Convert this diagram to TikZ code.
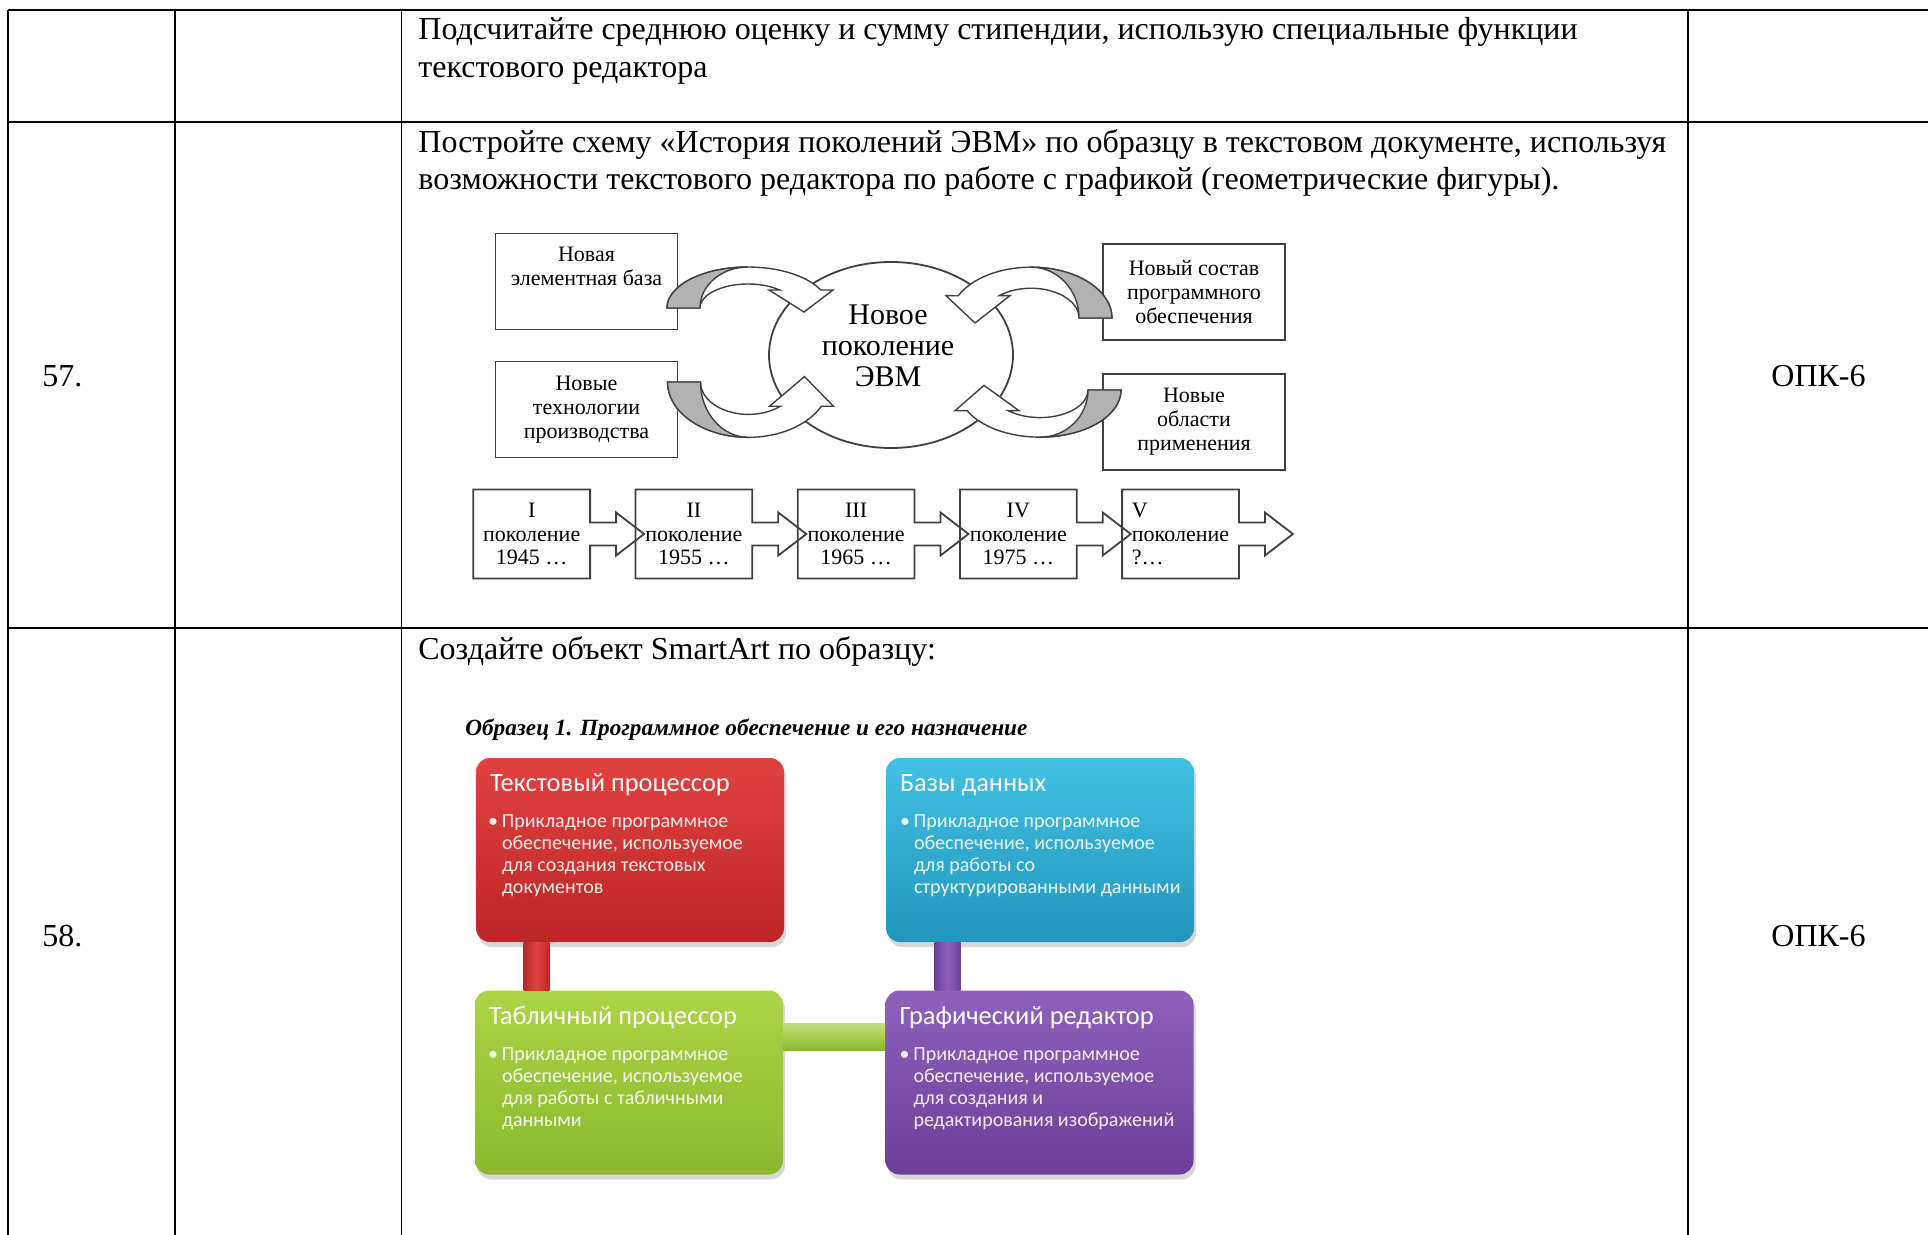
\documentclass[tikz,border=0pt]{standalone}
\usepackage{fontspec}
\setmainfont{Liberation Serif}
\newfontfamily\artfont{Carlito}
\usetikzlibrary{calc, shapes.geometric, shadows}

\definecolor{artred}{RGB}{224,66,64}
\definecolor{artredd}{RGB}{188,38,38}
\definecolor{artblue}{RGB}{66,192,226}
\definecolor{artblued}{RGB}{34,150,190}
\definecolor{artgreen}{RGB}{172,212,72}
\definecolor{artgreend}{RGB}{138,184,44}
\definecolor{artviolet}{RGB}{142,98,188}
\definecolor{artvioletd}{RGB}{108,62,152}

\begin{document}
\begin{tikzpicture}[x=0.5pt, y=-0.5pt,
  frame/.style={line width=0.85pt},
  cell/.style={anchor=base west, inner sep=0, font=\fontsize{16}{19}\selectfont},
  gbox/.style={draw=black!75, line width=0.9pt, minimum width=91pt, minimum height=48pt, align=center, inner sep=0, font=\fontsize{11}{12}\selectfont},
  gtext/.style={align=center, inner sep=0, font=\fontsize{11}{12}\selectfont},
  gen/.style={minimum width=58pt, minimum height=44pt, inner sep=0, font=\fontsize{11}{11.75}\selectfont},
  genline/.style={draw=black!75, line width=0.9pt},
  band/.style={fill=white, draw=black!75, line width=0.7pt},
  under/.style={fill=black!30, draw=black!75, line width=0.7pt},
  bendarrow/.pic={
    \path[band] (-81,0) arc[start angle=180, end angle=334, x radius=81, y radius=41]
      -- (85,-18) -- (56,4) -- (21,-18) -- (31.7,-18)
      arc[start angle=311.4, end angle=180, x radius=48, y radius=24] -- cycle;
    \path[under] (-81,0) arc[start angle=180, end angle=270, x radius=81, y radius=41]
      arc[start angle=270, end angle=180, x radius=48, y radius=41] -- cycle;
  },
  tile/.style={rounded corners=7pt, minimum width=154pt, minimum height=92pt, inner sep=0,
    drop shadow={shadow xshift=1pt, shadow yshift=-2.5pt, opacity=0.3}},
  tilehead/.style={anchor=base west, inner sep=0, text=white, font=\artfont\fontsize{13.2}{15}\selectfont},
  tilebody/.style={anchor=north west, inner sep=0, align=left, text=white, text opacity=0.9, font=\artfont\fontsize{10}{11}\selectfont},
  ]
\path[fill=white] (0,0) rectangle (1928,1235);
\useasboundingbox (0,0) rectangle (1928,1235);

\draw[frame] (8,10) -- (1928,10) (8,122) -- (1928,122) (8,628) -- (1928,628);
\foreach \x in {8,175,401.5,1688}
  \draw[frame] (\x,10) -- (\x,1235);

\node[cell] (t1a) at (418,39.5) {Подсчитайте среднюю оценку и сумму стипендии, использую специальные функции};
\node[cell] (t1b) at (418,77.5) {текстового редактора};
\node[cell] (t2a) at (418,152.5) {Постройте схему «История поколений ЭВМ» по образцу в текстовом документе, используя};
\node[cell] (t2b) at (418,189.5) {возможности текстового редактора по работе с графикой (геометрические фигуры).};
\node[cell] (t3a) at (418,659) {Создайте объект SmartArt по образцу:};
\node[cell] (n57) at (42,386.5) {57.};
\node[cell] (n58) at (42,946) {58.};
\node[cell] (k57) at (1771,386.5) {ОПК-6};
\node[cell] (k58) at (1771,946) {ОПК-6};

\node[gbox] (a) at (586.5,281.5) {};
\node[gtext] (aT) at (586.5,266) {Новая\\элементная база};
\node[gbox] (b) at (1194,292) {Новый состав\\программного\\обеспечения};
\node[gbox] (c) at (586.5,409.5) {Новые\\технологии\\производства};
\node[gbox] (d) at (1194,422) {Новые\\области\\применения};
\node[ellipse, draw=black!75, line width=0.9pt, minimum width=122pt, minimum height=93pt] (evm) at (891,355) {};
\node[align=center, inner sep=0, font=\fontsize{15}{15.5}\selectfont] (evmT) at (888,346) {Новое\\поколение\\ЭВМ};
\pic at (748,308) {bendarrow};
\pic[xscale=-1, yscale=1.24] at (1031,318) {bendarrow};
\pic[yscale=-1.35] at (748.5,382) {bendarrow};
\pic[xscale=-1, yscale=-1.15] at (1040,390) {bendarrow};

\foreach \n/\r/\yr/\al [count=\i from 0] in {1/I/{1945 …}/center, 2/II/{1955 …}/center,
    3/III/{1965 …}/center, 4/IV/{1975 …}/center, 5/V/{?…}/left}
  \node[gen, align=\al] (g\n) at ({531.7+162.2*\i},534) {\r\\поколение\\\yr};
\foreach \n in {1,...,5}
  \draw[genline] (g\n.north west) -- (g\n.north east) -- ($(g\n.east)+(0,-11.5)$) -- ++(26,0)
    -- ++(0,-10) -- ++(28,21.5) -- ++(-28,21.5) -- ++(0,-10) -- ++(-26,0)
    -- (g\n.south east) -- (g\n.south west) -- cycle;

\node[anchor=base west, inner sep=0, font=\fontsize{11.6}{12}\selectfont\bfseries\itshape] (ttl) at (465,735) {Образец 1. Программное обеспечение и его назначение};

\node[tile, top color=artred, bottom color=artredd] (tp) at (630,850) {};
\node[tile, top color=artblue, bottom color=artblued] (db) at (1040,850) {};
\node[tile, top color=artgreen, bottom color=artgreend] (sp) at (629,1082.5) {};
\node[tile, top color=artviolet, bottom color=artvioletd] (ge) at (1039.5,1082.5) {};

\shade[left color=artredd, right color=artredd, middle color=artred] ($(tp.south west)+(48,0)$) rectangle ($(sp.north west)+(75,0)$);
\shade[left color=artvioletd, right color=artvioletd, middle color=artviolet] ($(db.south west)+(49,0)$) rectangle ($(ge.north west)+(75.5,0)$);
\shade[top color=artgreen!70!white, bottom color=artgreend] ($(sp.east)+(0,-59.5)$) rectangle ($(ge.west)+(0,-32.5)$);

\node[tilehead] (tpH) at ($(tp.north west)+(14,34)$) {Текстовый процессор};
\node[tilebody] (tpB) at ($(tp.north west)+(26,57)$) {\llap{\textbullet\hspace{2pt}}Прикладное программное\\обеспечение, используемое\\для создания текстовых\\документов};
\node[tilehead] (dbH) at ($(db.north west)+(14,34)$) {Базы данных};
\node[tilebody] (dbB) at ($(db.north west)+(28,57)$) {\llap{\textbullet\hspace{2pt}}Прикладное программное\\обеспечение, используемое\\для работы со\\структурированными данными};
\node[tilehead] (spH) at ($(sp.north west)+(14,34)$) {Табличный процессор};
\node[tilebody] (spB) at ($(sp.north west)+(27,57)$) {\llap{\textbullet\hspace{2pt}}Прикладное программное\\обеспечение, используемое\\для работы с табличными\\данными};
\node[tilehead] (geH) at ($(ge.north west)+(14,34)$) {Графический редактор};
\node[tilebody] (geB) at ($(ge.north west)+(28,57)$) {\llap{\textbullet\hspace{2pt}}Прикладное программное\\обеспечение, используемое\\для создания и\\редактирования изображений};
\end{tikzpicture}
\end{document}
